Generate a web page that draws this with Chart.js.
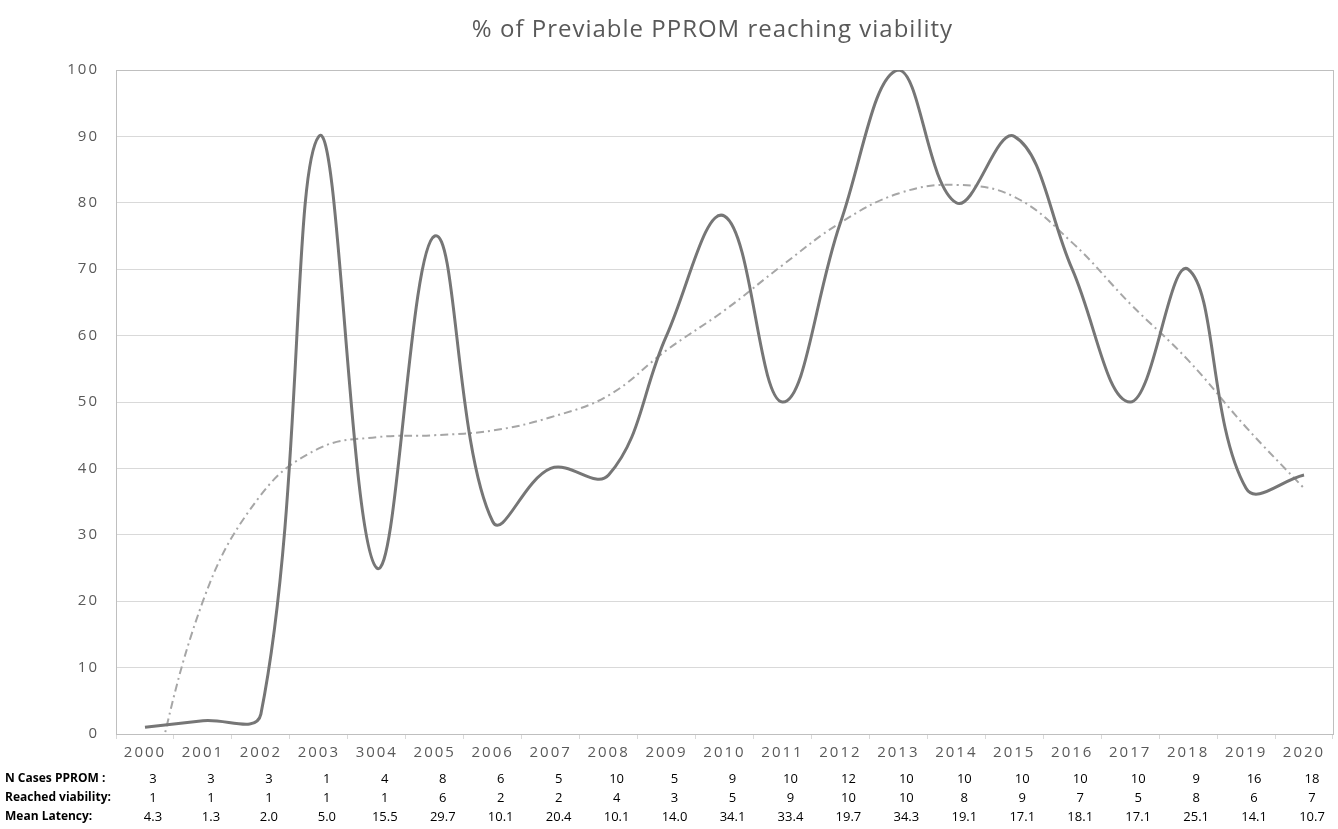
<!DOCTYPE html>
<html>
<head>
<meta charset="utf-8">
<script src="https://cdn.jsdelivr.net/npm/chart.js@4/dist/chart.umd.min.js"></script>
<style>
  html, body { margin: 0; padding: 0; background: #fff; }
  #wrap { width: 1338px; height: 829px; }
</style>
</head>
<body>
<div id="wrap"><canvas id="myChart" width="1338" height="829"></canvas></div>
<script>
const TITLE = '% of Previable PPROM reaching viability';
const YEARS = ['2000','2001','2002','2003','3004','2005','2006','2007','2008','2009','2010',
               '2011','2012','2013','2014','2015','2016','2017','2018','2019','2020'];
const PCT_VIABLE = [1, 2, 3, 90, 25, 75, 32, 40, 39, 60, 78, 50, 77, 100, 80, 90, 70, 50, 70, 37, 39];
const TREND = [-12, 20, 36, 43, 44.7, 45, 45.7, 47.7, 51, 57.8, 63.8, 70.6, 77, 81.4, 82.7, 80.9, 74, 64.8, 56.3, 46.2, 37];
const N_CASES = [3, 3, 3, 1, 4, 8, 6, 5, 10, 5, 9, 10, 12, 10, 10, 10, 10, 10, 9, 16, 18];
const REACHED = [1, 1, 1, 1, 1, 6, 2, 2, 4, 3, 5, 9, 10, 10, 8, 9, 7, 5, 8, 6, 7];
const MEAN_LATENCY = ['4.3','1.3','2.0','5.0','15.5','29.7','10.1','20.4','10.1','14.0','34.1',
                      '33.4','19.7','34.3','19.1','17.1','18.1','17.1','25.1','14.1','10.7'];
const TABLE_ROWS = [
  ['N Cases PPROM :', N_CASES],
  ['Reached viability:', REACHED],
  ['Mean Latency:', MEAN_LATENCY]
];

// the excel text is spaced out a bit, so widen the axis labels
const spacing = {
  id: 'spacing',
  beforeDraw(chart) { chart.ctx.letterSpacing = '2px'; },
  beforeDatasetsDraw(chart) { chart.ctx.letterSpacing = '0px'; }
};

// outline round the plot area
const plotBorder = {
  id: 'plotBorder',
  beforeDatasetsDraw(chart) {
    const a = chart.chartArea, ctx = chart.ctx;
    ctx.save();
    ctx.strokeStyle = '#bfbfbf';
    ctx.lineWidth = 1;
    ctx.strokeRect(Math.round(a.left) + 0.5, Math.round(a.top) + 0.5,
                   Math.round(a.right - a.left), Math.round(a.bottom - a.top));
    ctx.restore();
  }
};

// title + the little data table under the years
const textBits = {
  id: 'textBits',
  afterDraw(chart) {
    const ctx = chart.ctx, x = chart.scales.x, a = chart.chartArea;
    ctx.save();
    ctx.textBaseline = 'middle';

    ctx.letterSpacing = '1px';
    ctx.fillStyle = '#595959';
    ctx.font = '24px "Open Sans"';
    ctx.textAlign = 'center';
    ctx.fillText(TITLE, (a.left + a.right) / 2 - 12, 30);

    ctx.letterSpacing = '0px';
    ctx.fillStyle = '#000';
    TABLE_ROWS.forEach((row, r) => {
      const y = a.bottom + 45 + r * 19;
      ctx.font = 'bold 12px "Open Sans"';
      ctx.textAlign = 'left';
      ctx.fillText(row[0], 5, y);
      ctx.font = '13px "Open Sans"';
      ctx.textAlign = 'center';
      row[1].forEach((v, i) => ctx.fillText(String(v), x.getPixelForValue(i) + 8, y));
    });
    ctx.restore();
  }
};

Chart.defaults.font.family = '"Open Sans"';

new Chart(document.getElementById('myChart'), {
  type: 'line',
  data: {
    labels: YEARS,
    datasets: [{
      label: '% reaching viability',
      data: PCT_VIABLE,
      borderColor: '#767676',
      borderWidth: 3,
      pointRadius: 0,
      tension: 0.4,
      fill: false
    }, {
      label: 'Trend',
      data: TREND,
      borderColor: '#a6a6a6',
      borderWidth: 2,
      borderDash: [8, 4, 2, 4],
      pointRadius: 0,
      tension: 0.4,
      fill: false,
      clip: 0
    }]
  },
  options: {
    responsive: false,
    animation: false,
    layout: { padding: { left: 0, right: 5, top: 70, bottom: 62 } },
    plugins: {
      legend: { display: false },
      tooltip: { enabled: false },
      title: { display: false }
    },
    scales: {
      x: {
        offset: true,
        grid: { offset: true, drawOnChartArea: false, drawTicks: true, tickLength: 5, color: '#d9d9d9' },
        border: { display: true, color: '#bfbfbf' },
        ticks: { color: '#595959', font: { size: 15 }, padding: 5, maxRotation: 0, autoSkip: false }
      },
      y: {
        min: 0,
        max: 100,
        afterFit(scale) { scale.width = 116; },
        grid: { color: '#d9d9d9', drawTicks: false },
        border: { display: true, color: '#bfbfbf' },
        ticks: { stepSize: 10, color: '#595959', font: { size: 15 }, padding: 17 }
      }
    }
  },
  plugins: [spacing, plotBorder, textBits]
});
</script>
</body>
</html>
